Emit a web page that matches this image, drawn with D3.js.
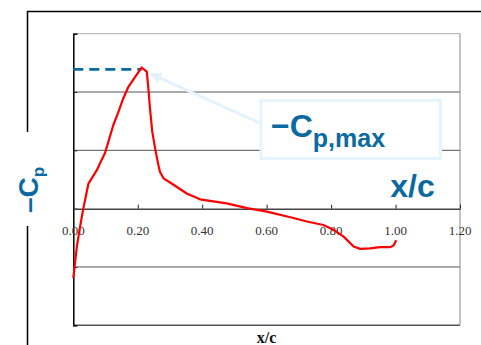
<!DOCTYPE html>
<html>
<head>
<meta charset="utf-8">
<script src="https://cdn.jsdelivr.net/npm/d3@7"></script>
<style>
  body { margin: 0; background: #fff; }
  svg { display: block; }
</style>
</head>
<body>
<div id="chart"></div>
<script>
// Pressure distribution along the chord
const xc = [0, 0.011, 0.021, 0.031, 0.047, 0.073, 0.083, 0.098, 0.109, 0.124, 0.140, 0.155, 0.171, 0.192, 0.212,
  0.228, 0.233, 0.238, 0.245, 0.254, 0.264, 0.269, 0.280, 0.311, 0.352, 0.393, 0.476, 0.539, 0.601, 0.683,
  0.725, 0.776, 0.807, 0.839, 0.870, 0.890, 0.921, 0.952, 0.984, 0.994, 1.002];
const minusCp = [-1.19, -0.65, -0.31, 0, 0.43, 0.66, 0.78, 0.95, 1.15, 1.43, 1.66, 1.89, 2.09, 2.26, 2.42,
  2.35, 2.06, 1.72, 1.32, 1.03, 0.75, 0.63, 0.52, 0.41, 0.26, 0.16, 0.09, 0.01, -0.05, -0.16,
  -0.22, -0.28, -0.36, -0.48, -0.65, -0.69, -0.68, -0.66, -0.66, -0.63, -0.54];
const xTicks = [0, 0.2, 0.4, 0.6, 0.8, 1.0, 1.2];
const yGrid = [-2, -1, 0, 1, 2, 3];
const cpMax = 2.39;
const xAtMax = 0.212;

const W = 481, H = 345;
const blue = "#0b6a9f";

const svg = d3.select("#chart").append("svg")
  .attr("width", W)
  .attr("height", H);

const x = d3.scaleLinear().domain([0, 1.2]).range([73.3, 460]);
const y = d3.scaleLinear().domain([-2, 3]).range([325.3, 33.7]);

// outer frame (top + left)
svg.append("path")
  .attr("d", `M481,11.5 H27.5 V345`)
  .attr("fill", "none")
  .attr("stroke", "#000")
  .attr("stroke-width", 1.5);

// gridlines
svg.append("g")
  .selectAll("line")
  .data(yGrid.filter(d => d !== 0))
  .join("line")
  .attr("x1", x(0)).attr("x2", x(1.2))
  .attr("y1", d => y(d)).attr("y2", d => y(d))
  .attr("stroke", d => d === 3 ? "#aaa" : "#555")
  .attr("stroke-width", d => d === -2 ? 1.5 : 1);

// right border
svg.append("line")
  .attr("x1", x(1.2)).attr("x2", x(1.2))
  .attr("y1", y(3)).attr("y2", y(-2))
  .attr("stroke", "#888");

// left axis with inward ticks
const yAxis = d3.axisRight(y).tickValues(yGrid).tickSize(4).tickFormat("");
svg.append("g")
  .attr("transform", `translate(${x(0)},0)`)
  .call(yAxis)
  .call(g => g.select(".domain").attr("stroke", "#000").attr("stroke-width", 1.5))
  .call(g => g.selectAll(".tick line").attr("stroke", "#222"));

// x axis through zero, ticks pointing up
const xAxis = d3.axisTop(x).tickValues(xTicks).tickSize(4).tickSizeOuter(0).tickFormat("");
svg.append("g")
  .attr("transform", `translate(0,${y(0)})`)
  .call(xAxis)
  .call(g => g.select(".domain").attr("stroke", "#444").attr("stroke-width", 1.5))
  .call(g => g.selectAll(".tick line").attr("stroke", "#222"));

// tick labels under the axis
svg.append("g")
  .selectAll("text")
  .data(xTicks)
  .join("text")
  .attr("x", d => x(d))
  .attr("y", y(0) + 26.5)
  .attr("text-anchor", "middle")
  .attr("font-family", "'Liberation Serif', 'Times New Roman', serif")
  .attr("font-size", 13)
  .attr("fill", "#333")
  .text(d => d.toFixed(2));

// bottom label
svg.append("text")
  .attr("x", 266.5)
  .attr("y", 343)
  .attr("text-anchor", "middle")
  .attr("font-family", "'Liberation Serif', 'Times New Roman', serif")
  .attr("font-weight", "bold")
  .attr("font-size", 16)
  .attr("fill", "#111")
  .text("x/c");

// dashed line marking the maximum
svg.append("line")
  .attr("x1", x(0)).attr("x2", x(xAtMax))
  .attr("y1", y(cpMax)).attr("y2", y(cpMax))
  .attr("stroke", blue)
  .attr("stroke-width", 2.7)
  .attr("stroke-dasharray", "10,6");

// the curve
const line = d3.line()
  .x((d, i) => x(xc[i]))
  .y(d => y(d));

svg.append("path")
  .datum(minusCp)
  .attr("d", line)
  .attr("fill", "none")
  .attr("stroke", "#ff0000")
  .attr("stroke-width", 2.2)
  .attr("stroke-linejoin", "round");

// annotation arrow
const defs = svg.append("defs");
defs.append("marker")
  .attr("id", "arrow")
  .attr("viewBox", "0 0 10 10")
  .attr("refX", 8).attr("refY", 5)
  .attr("markerWidth", 4).attr("markerHeight", 4)
  .attr("orient", "auto-start-reverse")
  .append("path")
  .attr("d", "M0,0 L10,5 L0,10 z")
  .attr("fill", "#e3f2fc");

svg.append("line")
  .attr("x1", 260).attr("y1", 123)
  .attr("x2", x(xAtMax) + 10).attr("y2", y(cpMax) + 5)
  .attr("stroke", "#e3f2fc")
  .attr("stroke-width", 3)
  .attr("marker-end", "url(#arrow)");

// annotation box
svg.append("rect")
  .attr("x", 261).attr("y", 100.5)
  .attr("width", 179.5).attr("height", 58)
  .attr("fill", "#fff")
  .attr("stroke", "#e6f4fd")
  .attr("stroke-width", 3);

const ann = svg.append("text")
  .attr("x", 271)
  .attr("y", 137)
  .attr("font-family", "'Liberation Sans', Arial, sans-serif")
  .attr("font-weight", "bold")
  .attr("fill", blue);
ann.append("tspan").attr("font-size", 32).text("\u2212C");
ann.append("tspan").attr("font-size", 25).attr("dy", 10).text("p,max");

// big x/c label
svg.append("text")
  .attr("x", 412.5)
  .attr("y", 196.5)
  .attr("text-anchor", "middle")
  .attr("font-family", "'Liberation Sans', Arial, sans-serif")
  .attr("font-weight", "bold")
  .attr("font-size", 32)
  .attr("fill", blue)
  .text("x/c");

// y label with white backing over the frame
svg.append("rect")
  .attr("x", 10).attr("y", 132)
  .attr("width", 40).attr("height", 94)
  .attr("fill", "#fff");

const yl = svg.append("text")
  .attr("transform", "translate(38,213) rotate(-90)")
  .attr("font-family", "'Liberation Sans', Arial, sans-serif")
  .attr("font-weight", "bold")
  .attr("fill", blue);
yl.append("tspan").attr("font-size", 28).text("\u2013C");
yl.append("tspan").attr("font-size", 17).attr("dy", 6).text("p");
</script>
</body>
</html>
